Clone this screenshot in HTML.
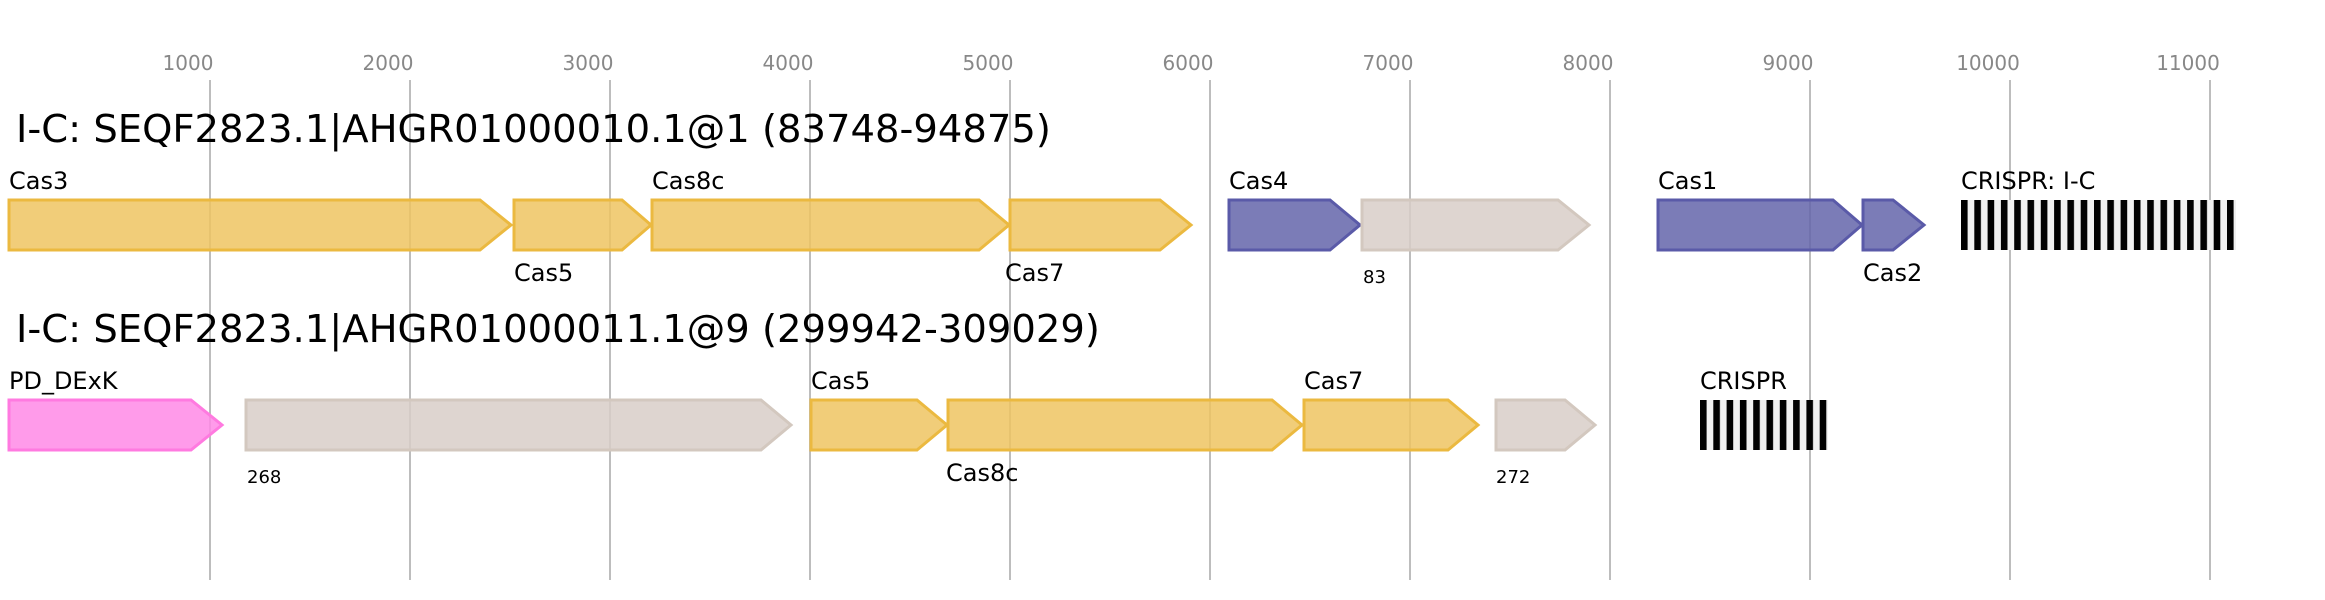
<!DOCTYPE html>
<html><head><meta charset="utf-8"><style>
html,body{margin:0;padding:0;background:#fff;}
svg{display:block;font-family:"DejaVu Sans","Liberation Sans",sans-serif;}
</style></head><body>
<svg width="2325" height="600" viewBox="0 0 2325 600" xmlns="http://www.w3.org/2000/svg">
<defs>
<pattern id="cr" x="1961" y="0" width="13.3" height="10" patternUnits="userSpaceOnUse">
<rect width="13.3" height="10" fill="#f0f0f0"/><rect width="6.6" height="10" fill="#000"/>
</pattern>
<pattern id="cr2" x="1700" y="0" width="13.3" height="10" patternUnits="userSpaceOnUse">
<rect width="13.3" height="10" fill="#f0f0f0"/><rect width="6.6" height="10" fill="#000"/>
</pattern>
</defs>
<g fill="#888" font-size="20" text-anchor="middle">
<text x="188" y="70">1000</text><text x="388" y="70">2000</text><text x="588" y="70">3000</text>
<text x="788" y="70">4000</text><text x="988" y="70">5000</text><text x="1188" y="70">6000</text>
<text x="1388" y="70">7000</text><text x="1588" y="70">8000</text><text x="1788" y="70">9000</text>
<text x="1988" y="70">10000</text><text x="2188" y="70">11000</text>
</g>
<g stroke="#bdbdbd" stroke-width="2">
<line x1="210" y1="80" x2="210" y2="580"/><line x1="410" y1="80" x2="410" y2="580"/>
<line x1="610" y1="80" x2="610" y2="580"/><line x1="810" y1="80" x2="810" y2="580"/>
<line x1="1010" y1="80" x2="1010" y2="580"/><line x1="1210" y1="80" x2="1210" y2="580"/>
<line x1="1410" y1="80" x2="1410" y2="580"/><line x1="1610" y1="80" x2="1610" y2="580"/>
<line x1="1810" y1="80" x2="1810" y2="580"/><line x1="2010" y1="80" x2="2010" y2="580"/>
<line x1="2210" y1="80" x2="2210" y2="580"/>
</g>
<text x="16" y="142" font-size="38.5" fill="#000">I-C: SEQF2823.1|AHGR01000010.1@1 (83748-94875)</text>
<text x="16" y="342" font-size="38.5" fill="#000">I-C: SEQF2823.1|AHGR01000011.1@9 (299942-309029)</text>

<g stroke-width="3" fill-opacity="0.85">
<g fill="#efc462" stroke="#ebb940">
<polygon points="9,200 480,200 511,225 480,250 9,250"/>
<polygon points="514,200 622,200 651,225 622,250 514,250"/>
<polygon points="652,200 979,200 1009,225 979,250 652,250"/>
<polygon points="1010,200 1160,200 1191,225 1160,250 1010,250"/>
<polygon points="811,400 917,400 947,425 917,450 811,450"/>
<polygon points="948,400 1272,400 1302,425 1272,450 948,450"/>
<polygon points="1304,400 1448,400 1478,425 1448,450 1304,450"/>
</g>
<g fill="#6465aa" stroke="#5a5aa8">
<polygon points="1229,200 1330,200 1360,225 1330,250 1229,250"/>
<polygon points="1658,200 1833,200 1862,225 1833,250 1658,250"/>
<polygon points="1863,200 1893,200 1924,225 1893,250 1863,250"/>
</g>
<g fill="#d8cec8" stroke="#d3c8bf">
<polygon points="1362,200 1558,200 1589,225 1558,250 1362,250"/>
<polygon points="246,400 761,400 791,425 761,450 246,450"/>
<polygon points="1496,400 1565,400 1595,425 1565,450 1496,450"/>
</g>
<polygon points="9,400 191,400 222,425 191,450 9,450" fill="#ff8ae6" stroke="#ff7ae0"/>
</g>
<rect x="1961" y="200" width="275" height="50" fill="url(#cr)"/>
<rect x="1700" y="400" width="128" height="50" fill="url(#cr2)"/>

<g font-size="24" fill="#000">
<text x="9" y="189">Cas3</text>
<text x="514" y="281">Cas5</text>
<text x="652" y="189">Cas8c</text>
<text x="1005" y="281">Cas7</text>
<text x="1229" y="189">Cas4</text>
<text x="1658" y="189">Cas1</text>
<text x="1863" y="281">Cas2</text>
<text x="1961" y="189">CRISPR: I-C</text>
<text x="9" y="389">PD_DExK</text>
<text x="811" y="389">Cas5</text>
<text x="946" y="481">Cas8c</text>
<text x="1304" y="389">Cas7</text>
<text x="1700" y="389">CRISPR</text>
</g>
<g font-size="18" fill="#000">
<text x="1363" y="283">83</text>
<text x="247" y="483">268</text>
<text x="1496" y="483">272</text>
</g>
</svg>
</body></html>
